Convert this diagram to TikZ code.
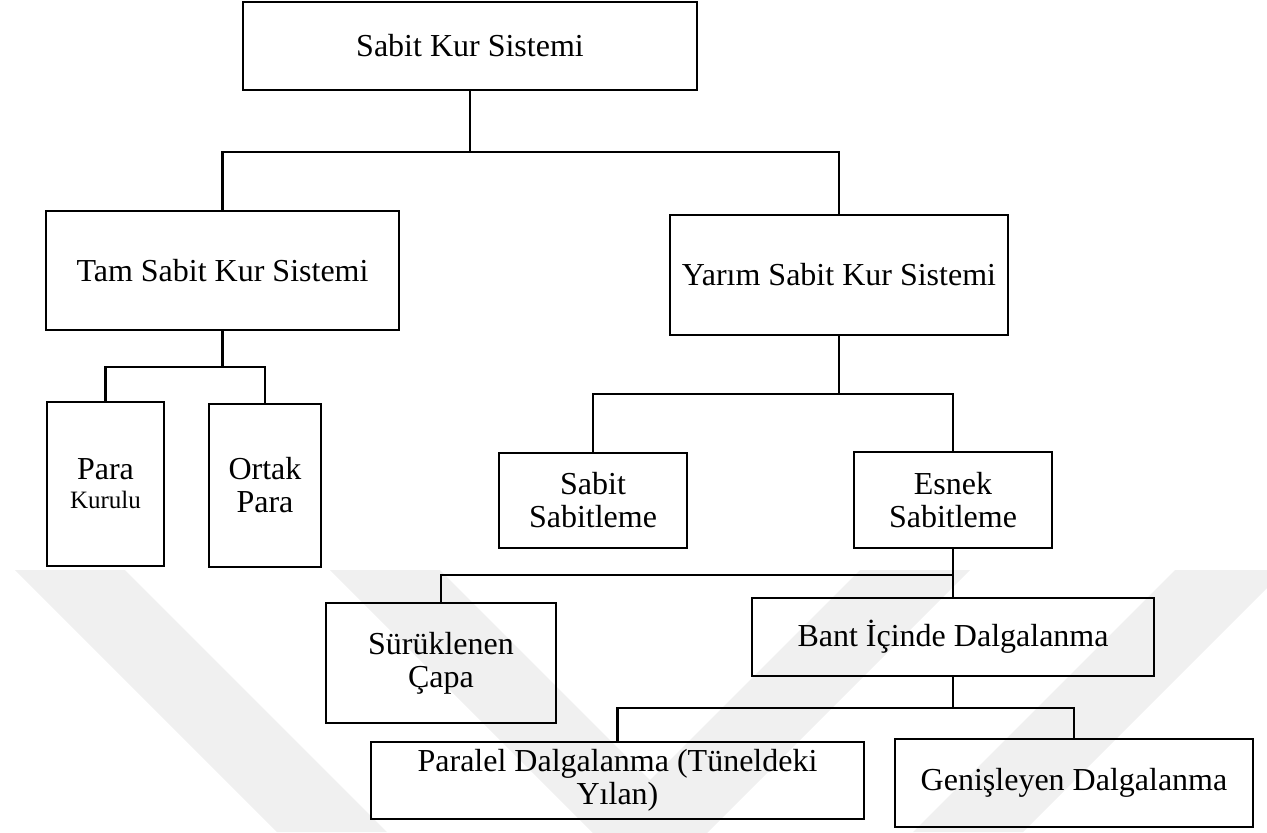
\documentclass[tikz,border=0pt]{standalone}
\usepackage{fontspec}
\setmainfont{Liberation Serif}
\begin{document}
\begin{tikzpicture}[x=0.5pt,y=-0.5pt,
  box/.style={draw=black, line width=1.1pt, align=center, inner sep=0pt,
              font=\fontsize{16}{16.5}\selectfont},
  link/.style={draw=black, line width=1.1pt},
  stripe/.style={fill=black!6}]
\useasboundingbox (0,0) rectangle (1267,832);

% faint chevron stripes in the background
\fill[stripe] (15,570) -- (125,570) -- (387,832) -- (277,832) -- cycle;
\fill[stripe] (1175,570) -- (1285,570) -- (1023,832) -- (913,832) -- cycle;
\fill[stripe] (330,570) -- (440,570) -- (650,780) -- (860,570) -- (970,570)
            -- (650,890) -- cycle;

% boxes
\node[box, minimum width=227pt,   minimum height=44pt]   (top)     at (470,46)      {Sabit Kur Sistemi};
\node[box, minimum width=176.5pt, minimum height=59.5pt] (tam)     at (222.5,270.5) {Tam Sabit Kur Sistemi};
\node[box, minimum width=169pt,   minimum height=60pt]   (yarim)   at (839,275)     {Yarım Sabit Kur Sistemi};
\node[box, minimum width=58.5pt,  minimum height=82pt]   (para)    at (105.5,484)   {Para\\[-2pt]{\fontsize{12.5}{14}\selectfont Kurulu}};
\node[box, minimum width=56pt,    minimum height=81.5pt] (ortak)   at (265,485.5)   {Ortak\\Para};
\node[box, minimum width=94pt,    minimum height=47.5pt] (sabit)   at (593,500.5)   {Sabit\\Sabitleme};
\node[box, minimum width=99pt,    minimum height=48pt]   (esnek)   at (953,500)     {Esnek\\Sabitleme};
\node[box, minimum width=115pt,   minimum height=60pt]   (sur)     at (441,663)     {Sürüklenen\\Çapa};
\node[box, minimum width=201pt,   minimum height=39pt]   (bant)    at (953,637)     {Bant İçinde Dalgalanma};
\node[box, minimum width=246.5pt, minimum height=38.5pt] (paralel) at (617.5,780.5) {Paralel Dalgalanma (Tüneldeki\\Yılan)};
\node[box, minimum width=179pt,   minimum height=44pt]   (genis)   at (1074,783)    {Genişleyen Dalgalanma};

% branching points
\coordinate (j1) at (470,152);
\coordinate (j2) at (222.5,367);
\coordinate (j3) at (839,394);
\coordinate (j4) at (953,575);
\coordinate (j5) at (953,708);

% connectors
\draw[link] (top.south) -- (j1);
\draw[link] (tam.north) |- (j1) -| (yarim.north);
\draw[link] (tam.south) -- (j2);
\draw[link] (para.north) |- (j2) -| (ortak.north);
\draw[link] (yarim.south) -- (j3);
\draw[link] (sabit.north) |- (j3) -| (esnek.north);
\draw[link] (esnek.south) -- (bant.north);
\draw[link] (sur.north) |- (j4);
\draw[link] (bant.south) -- (j5);
\draw[link] (paralel.north) |- (j5) -| (genis.north);
\end{tikzpicture}
\end{document}
